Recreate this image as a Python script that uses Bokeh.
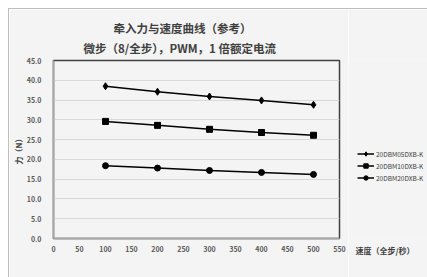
from bokeh.plotting import figure
from bokeh.layouts import row
from bokeh.models import Title, Legend, LegendItem, FixedTicker, NumeralTickFormatter, Range1d
from bokeh.embed import file_html
from bokeh.resources import INLINE

speed = [100, 200, 300, 400, 500]
force_05 = [38.5, 37.1, 35.9, 34.9, 33.8]
force_10 = [29.6, 28.6, 27.6, 26.8, 26.1]
force_20 = [18.4, 17.8, 17.2, 16.7, 16.2]
series_names = ["20DBM05DXB-K", "20DBM10DXB-K", "20DBM20DXB-K"]
x_ticks = list(range(0, 551, 50))
y_ticks = [0, 5, 10, 15, 20, 25, 30, 35, 40, 45]

title1 = "牵入力与速度曲线（参考）"
title2 = "微步（8/全步），PWM，1 倍额定电流"
x_label = "速度（全步/秒）"
y_label = "力（N）"

CJK = "Noto Sans CJK SC"
BG = "#f4f4f4"

# main chart
p = figure(width=339, height=268, output_backend="svg", toolbar_location=None, title=None,
           x_range=Range1d(0, 550), y_range=Range1d(0, 45),
           min_border_left=44, min_border_top=51, min_border_right=9, min_border_bottom=39,
           background_fill_color=BG, border_fill_color=BG)

p.outline_line_color = "#404040"
p.outline_line_width = 1.5

p.xgrid.grid_line_color = None
p.ygrid.grid_line_color = "#d9d9d9"
p.ygrid.ticker = FixedTicker(ticks=y_ticks)

for ax in (p.xaxis, p.yaxis):
    ax.axis_line_color = "#a6a6a6"
    ax.axis_line_width = 1.5
    ax.major_tick_line_color = None
    ax.minor_tick_line_color = None
    ax.major_label_text_font = CJK
    ax.major_label_text_font_style = "bold"
    ax.major_label_text_font_size = "7px"
    ax.major_label_text_color = "#595959"

p.xaxis.ticker = FixedTicker(ticks=x_ticks)
p.yaxis.ticker = FixedTicker(ticks=y_ticks)
p.yaxis.formatter = NumeralTickFormatter(format="0.0")
p.xaxis.major_label_standoff = 1
p.yaxis.major_label_standoff = 6

p.yaxis.axis_label = y_label
p.yaxis.axis_label_text_font = CJK
p.yaxis.axis_label_text_font_style = "bold"
p.yaxis.axis_label_text_font_size = "8px"
p.yaxis.axis_label_text_color = "#404040"
p.yaxis.axis_label_standoff = 0

p.line(speed, force_05, line_color="black", line_width=1.5)
p.scatter(speed, force_05, marker="diamond", size=7, color="black")
p.line(speed, force_10, line_color="black", line_width=1.5)
p.scatter(speed, force_10, marker="square", size=6, color="black")
p.line(speed, force_20, line_color="black", line_width=1.5)
p.scatter(speed, force_20, marker="circle", size=6, color="black")

p.add_layout(Title(text=title2, align="left", offset=30, standoff=10,
                   text_font=CJK, text_font_style="bold", text_font_size="11.5px",
                   text_color="#404040"), "above")
try:
    t1 = Title(text=title1, align="left", offset=60, standoff=-6,
               text_font=CJK, text_font_style="bold", text_font_size="11.5px",
               text_color="#404040")
except ValueError:
    t1 = Title(text=title1, align="left", offset=60, standoff=0,
               text_font=CJK, text_font_style="bold", text_font_size="11.5px",
               text_color="#404040")
p.add_layout(t1, "above")

# right strip holding legend and x-axis title
q = figure(width=79, height=268, output_backend="svg", toolbar_location=None, title=None,
           x_range=Range1d(0, 1), y_range=Range1d(0, 1),
           x_axis_location=None, y_axis_location=None,
           min_border_left=0, min_border_top=51, min_border_right=0, min_border_bottom=39,
           background_fill_color=BG, border_fill_color=BG)
q.outline_line_color = None
q.grid.visible = False

q1l = q.line(speed, force_05, line_color="black", line_width=1.5)
q1m = q.scatter(speed, force_05, marker="diamond", size=7, color="black")
q2l = q.line(speed, force_10, line_color="black", line_width=1.5)
q2m = q.scatter(speed, force_10, marker="square", size=6, color="black")
q3l = q.line(speed, force_20, line_color="black", line_width=1.5)
q3m = q.scatter(speed, force_20, marker="circle", size=6, color="black")

legend = Legend(items=[
    LegendItem(label=series_names[0], renderers=[q1l, q1m]),
    LegendItem(label=series_names[1], renderers=[q2l, q2m]),
    LegendItem(label=series_names[2], renderers=[q3l, q3m]),
], location=(9, 55), background_fill_alpha=0, border_line_color=None,
   label_text_font=CJK, label_text_font_size="6.5px", label_text_color="#404040",
   glyph_width=17, glyph_height=11, label_height=11, spacing=1,
   padding=0, margin=0, label_standoff=2)
q.add_layout(legend, "center")

q.add_layout(Title(text=x_label, align="left", offset=7, standoff=12, vertical_align="top",
                   text_font=CJK, text_font_style="bold", text_font_size="8px",
                   text_color="#404040"), "below")

layout = row(p, q, spacing=0,
             styles={"margin-left": "8px", "margin-top": "8px",
                     "border-left": "1px solid #bdbdbd", "border-top": "1px solid #bdbdbd"})

open("out.html", "w").write(file_html(layout, INLINE))
